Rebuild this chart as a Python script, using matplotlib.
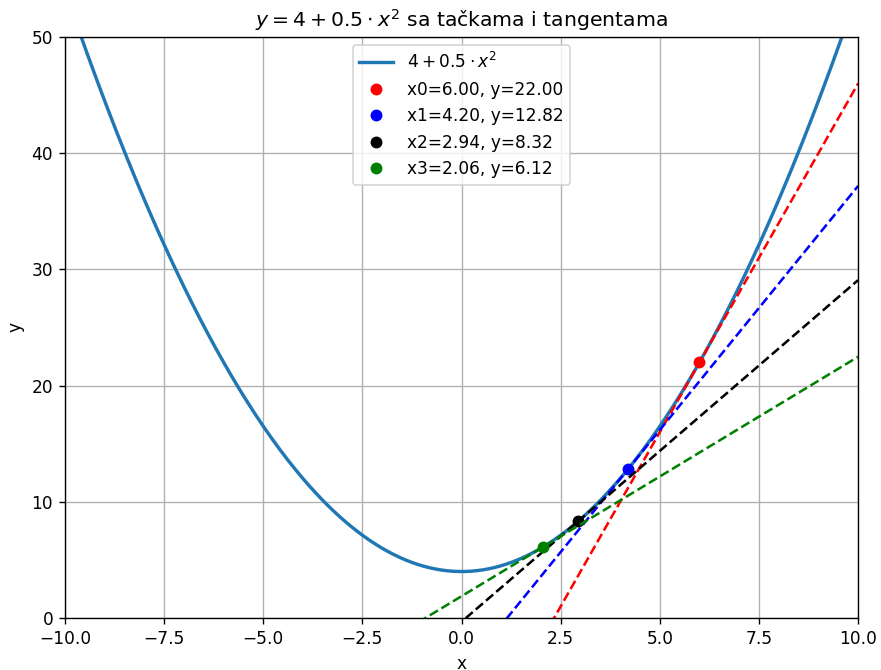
import numpy as np
import matplotlib.pyplot as plt

# curve y = 4 + 0.5*x^2, points from the iteration
a0 = 4.0
a2 = 0.5
x_points = [6.00, 4.20, 2.94, 2.06]
point_colors = ["red", "blue", "black", "green"]
x_range = (-10, 10)
y_range = (0, 50)


def f(x):
    return a0 + a2 * x ** 2


def df(x):
    return 2 * a2 * x


DPI = 122
fig = plt.figure(figsize=(881 / DPI, 670 / DPI), dpi=DPI)
ax = fig.add_axes([0.0738, 0.0776, 0.9002, 0.8672])

xs = np.linspace(x_range[0], x_range[1], 400)
ax.plot(xs, f(xs), color="#1f77b4", linewidth=2, label=r"$4 + 0.5 \cdot x^2$")

for i, (xp, c) in enumerate(zip(x_points, point_colors)):
    yp = f(xp)
    ax.plot(xp, yp, "o", color=c, label=f"x{i}={xp:.2f}, y={yp:.2f}")
    ax.plot(xs, yp + df(xp) * (xs - xp), "--", color=c)

ax.set_xlim(*x_range)
ax.set_ylim(*y_range)
ax.set_xlabel("x")
ax.set_ylabel("y")
ax.set_title(r"$y = 4 + 0.5 \cdot x^2$ sa tačkama i tangentama")
ax.grid(True)
ax.legend(loc="upper center")

fig.savefig("out.png", dpi=DPI)
